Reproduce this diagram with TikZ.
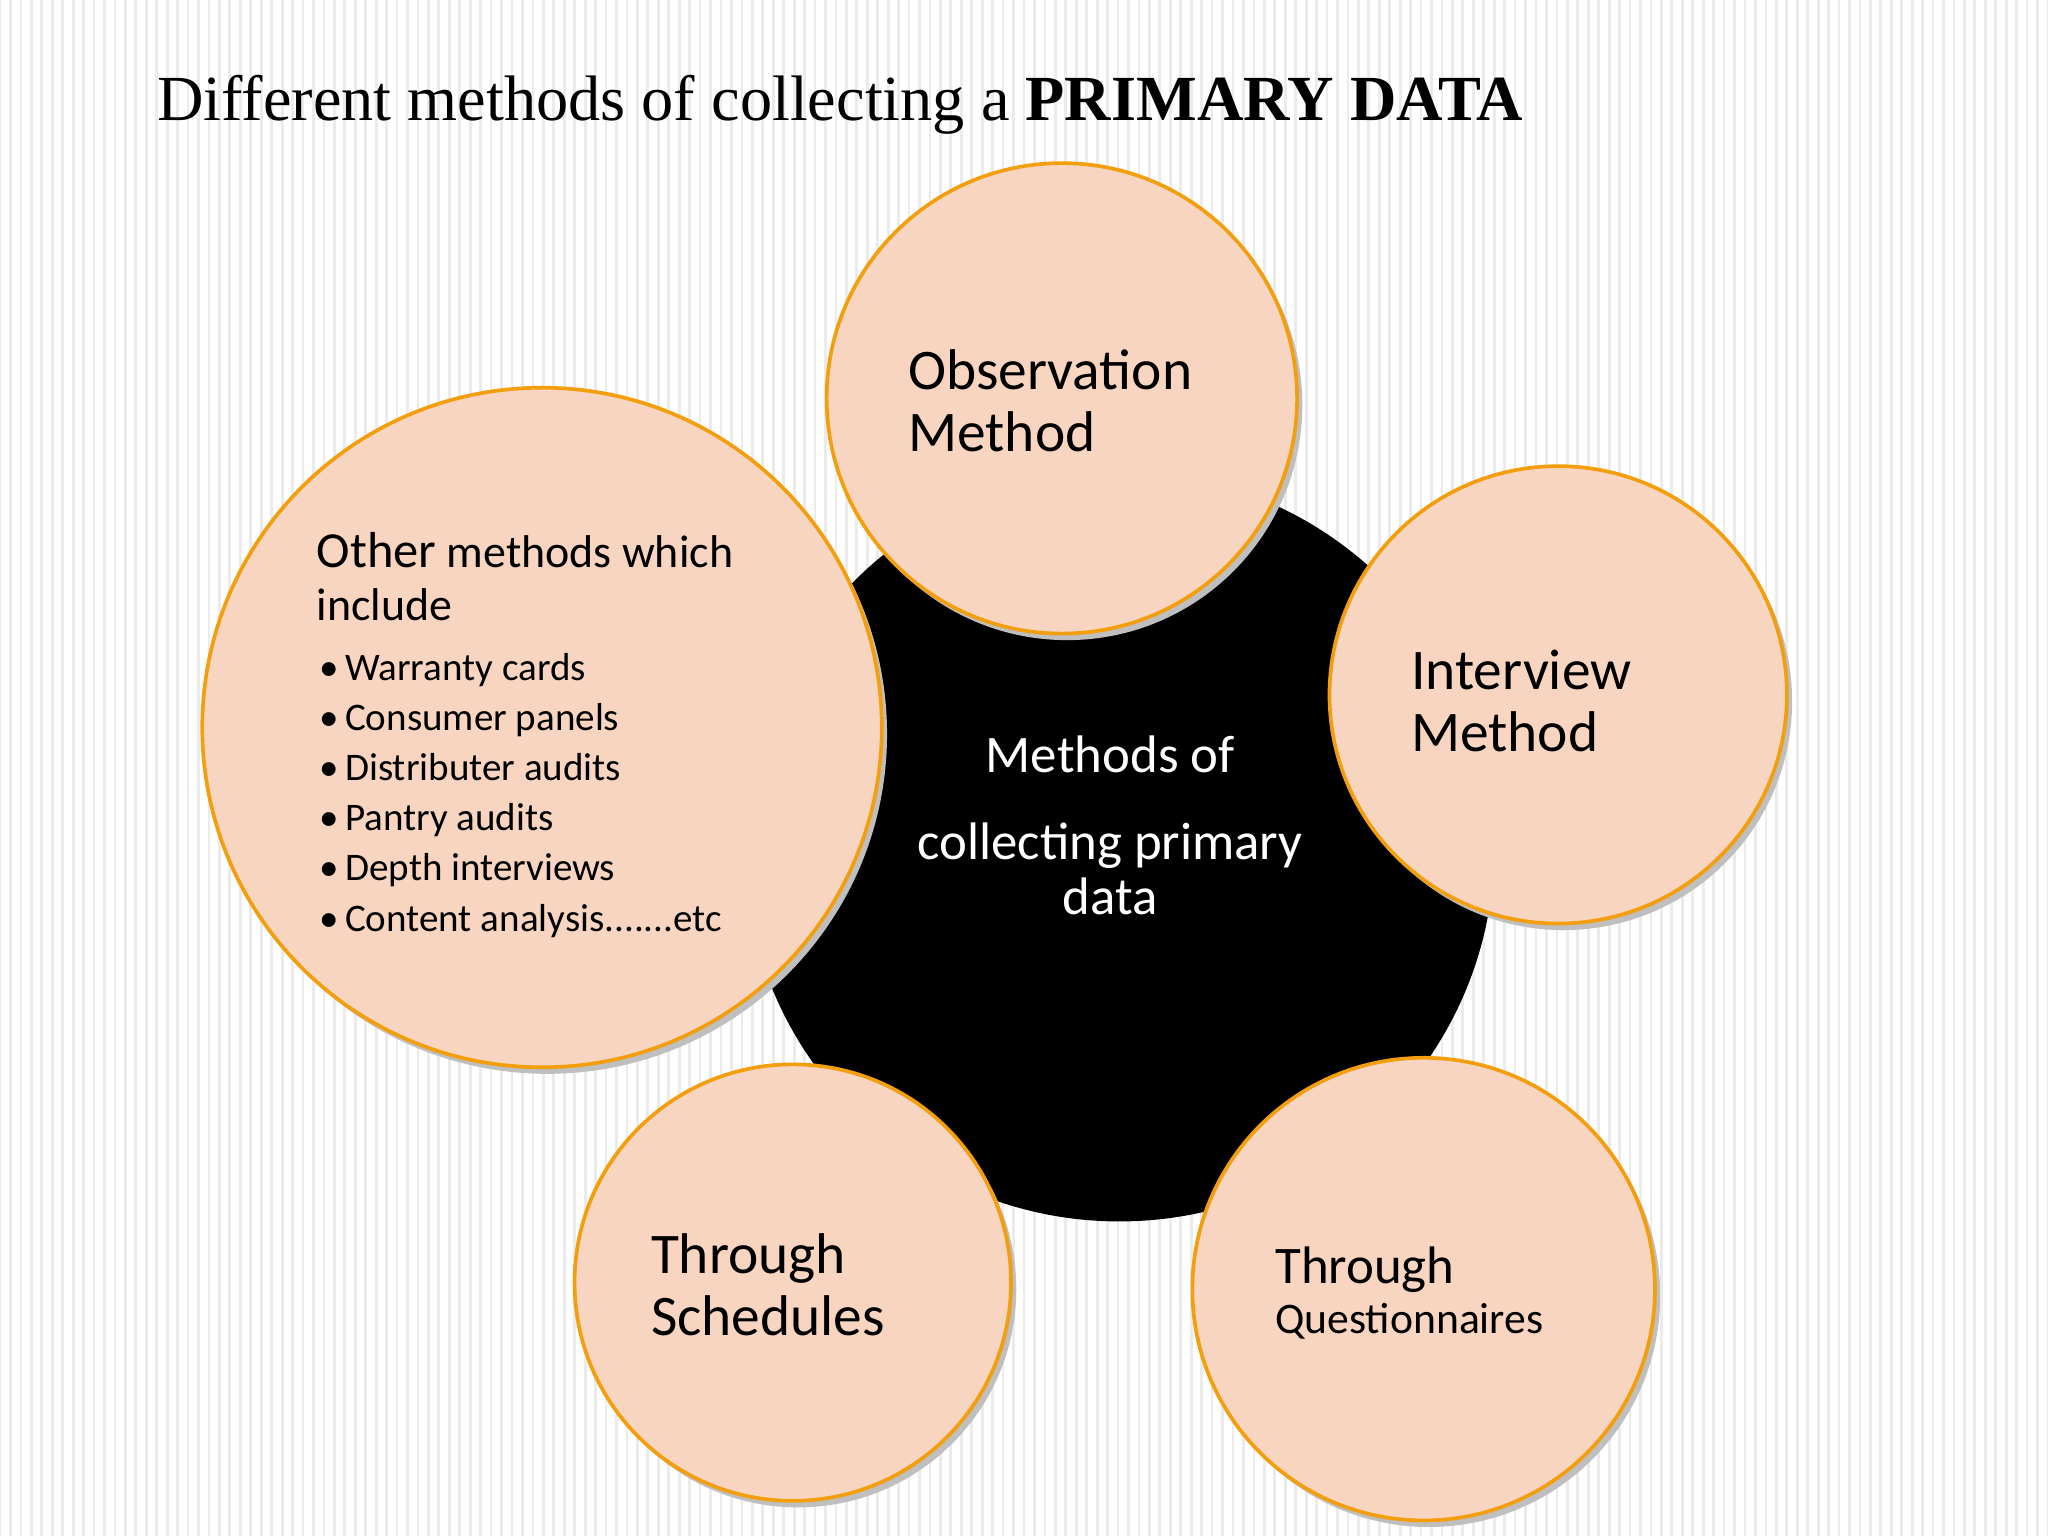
\documentclass[tikz,border=0pt]{standalone}
\usepackage{fontspec}
\setmainfont{Carlito}
\newfontfamily\titlefont{Liberation Serif}
\begin{document}
\begin{tikzpicture}[x=0.01cm,y=-0.01cm,
  petal/.style={circle,inner sep=0pt,draw=orange!70!yellow!80!brown,line width=0.8pt,fill=peach,minimum size=#1},
  shadowc/.style={circle,inner sep=0pt,fill=black!25,minimum size=#1,draw=none}]
\definecolor{peach}{HTML}{F8D5C0}
\useasboundingbox (0,0) rectangle (1568,1176);
\fill[white] (0,0) rectangle (1568,1176);
\foreach \x in {0,8,...,1568} \draw[black!8,line width=0.6pt] (\x,0) -- (\x,1176);
\node[anchor=west,font=\titlefont\fontsize{14}{16}\selectfont] (title) at (108,80) {Different methods of collecting a \textbf{PRIMARY DATA}};
\node[circle,inner sep=0pt,fill=black,minimum size=5.74cm] (c) at (857,648) {};
\node[text=white,align=center,font=\fontsize{11.5}{19}\selectfont] (ct) at (850,632) {Methods of\\collecting primary\\[-7pt]data};
\node[shadowc=3.6cm] at (817,310) {};
\node[petal=3.6cm] (obs) at (813,305) {};
\node[shadowc=3.5cm] at (1197,537) {};
\node[petal=3.5cm] (int) at (1193,532) {};
\node[shadowc=5.2cm] at (419,562) {};
\node[petal=5.2cm] (oth) at (415,557) {};
\node[shadowc=3.34cm] at (611,987) {};
\node[petal=3.34cm] (sch) at (607,982) {};
\node[shadowc=3.54cm] at (1094,992) {};
\node[petal=3.54cm] (que) at (1090,987) {};
\node[anchor=north west,align=left,font=\fontsize{12.5}{13.5}\selectfont] at (683,255) {Observation\\Method};
\node[anchor=north west,align=left,font=\fontsize{12.5}{13.5}\selectfont] at (1068,485) {Interview\\Method};
\node[anchor=north west,align=left,font=\fontsize{12.5}{13.5}\selectfont] at (486,932) {Through\\Schedules};
\node[anchor=north west,align=left,font=\fontsize{11.5}{11}\selectfont] at (964,942) {Through\\{\fontsize{9.5}{11}\selectfont Questionnaires}};
\node[anchor=north west,align=left,font=\fontsize{10}{11.5}\selectfont] at (230,395) {{\fontsize{11}{11}\selectfont Other} methods which\\include};
\node[anchor=north west,align=left,font=\fontsize{8.5}{10.9}\selectfont] at (232,488) {%
\textbullet\,Warranty cards\\\textbullet\,Consumer panels\\\textbullet\,Distributer audits\\\textbullet\,Pantry audits\\\textbullet\,Depth interviews\\\textbullet\,Content analysis.......etc};
\end{tikzpicture}
\end{document}
